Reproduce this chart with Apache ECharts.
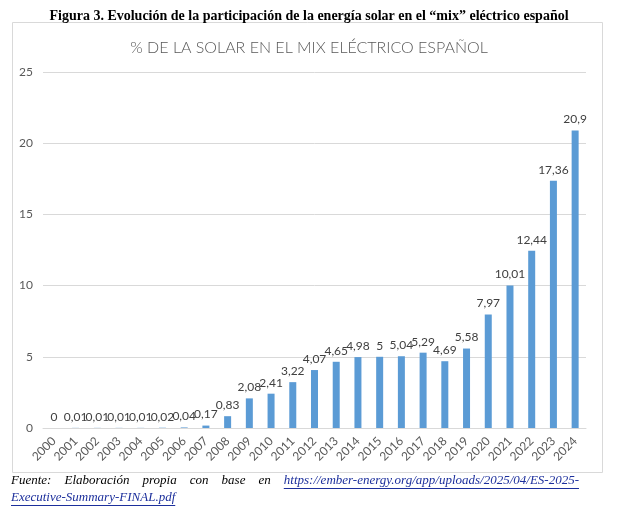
<!DOCTYPE html>
<html>
<head>
<meta charset="utf-8">
<script src="https://cdn.jsdelivr.net/npm/echarts@6/dist/echarts.min.js"></script>
<style>
html,body{margin:0;padding:0;background:#fff;}
#c{width:618px;height:515px;}
</style>
</head>
<body>
<div id="c"></div>
<script>
const years = ['2000','2001','2002','2003','2004','2005','2006','2007','2008','2009','2010','2011','2012','2013','2014','2015','2016','2017','2018','2019','2020','2021','2022','2023','2024'];
const solarShare = [0,0.01,0.01,0.01,0.01,0.02,0.04,0.17,0.83,2.08,2.41,3.22,4.07,4.65,4.98,5,5.04,5.29,4.69,5.58,7.97,10.01,12.44,17.36,20.9];
const yTicks = [0,5,10,15,20,25];
const figCaption = 'Figura 3. Evolución de la participación de la energía solar en el “mix” eléctrico español';
const chartTitle = '% DE LA SOLAR EN EL MIX ELÉCTRICO ESPAÑOL';
const footWords = ['Fuente:','Elaboración','propia','con','base','en'];
const footLink1 = 'https://ember-energy.org/app/uploads/2025/04/ES-2025-';
const footLink2 = 'Executive-Summary-FINAL.pdf';

const chart = echarts.init(document.getElementById('c'));

// measure text for justified footer
const cv = document.createElement('canvas').getContext('2d');
const footFont = "italic 13px 'Liberation Serif'";
cv.font = footFont;
const lineLeft = 11, lineRight = 579;
const allWords = footWords.concat([footLink1]);
const widths = allWords.map(w => cv.measureText(w).width);
const total = widths.reduce((a,b)=>a+b,0);
const gap = (lineRight - lineLeft - total) / (allWords.length - 1);
const linkColor = '#1c2f9c';
const graphics = [];
graphics.push({type:'rect', shape:{x:12.5,y:22.5,width:590,height:450}, style:{fill:'none',stroke:'#d9d9d9',lineWidth:1}, silent:true, z:-1});
let x = lineLeft;
allWords.forEach((w,i) => {
  const isLink = i === allWords.length - 1;
  graphics.push({type:'text', left:x, top:474, style:{text:w, font:footFont, fill:isLink?linkColor:'#000'}});
  if (isLink) {
    graphics.push({type:'line', shape:{x1:x,y1:488.5,x2:x+widths[i],y2:488.5}, style:{stroke:linkColor,lineWidth:1}});
  }
  x += widths[i] + gap;
});
const w2 = cv.measureText(footLink2).width;
graphics.push({type:'text', left:lineLeft, top:491, style:{text:footLink2, font:footFont, fill:linkColor}});
graphics.push({type:'line', shape:{x1:lineLeft,y1:505.5,x2:lineLeft+w2,y2:505.5}, style:{stroke:linkColor,lineWidth:1}});

chart.setOption({
  animation:false,
  backgroundColor:'#fff',
  title:[
    {text:figCaption, left:'center', top:4, textStyle:{fontFamily:'Liberation Serif', fontWeight:'bold', fontSize:14, color:'#000'}},
    {text:chartTitle, left:'center', top:35, textStyle:{fontFamily:'Lato', fontWeight:300, fontSize:16, color:'#595959'}}
  ],
  grid:{left:43, right:32, top:72, bottom:87},
  xAxis:{
    type:'category', data:years,
    axisLine:{lineStyle:{color:'#d9d9d9'}},
    axisTick:{show:false},
    axisLabel:{rotate:45, color:'#595959', fontFamily:'Lato', fontSize:12, margin:11, interval:0}
  },
  yAxis:{
    type:'value', min:0, max:25, interval:5,
    axisLine:{show:false}, axisTick:{show:false},
    splitLine:{lineStyle:{color:'#d9d9d9'}},
    axisLabel:{color:'#595959', fontFamily:'Lato', fontSize:12, margin:10}
  },
  series:[{
    type:'bar', data:solarShare, barWidth:7,
    itemStyle:{color:'#5b9bd5'},
    label:{show:true, position:'top', distance:5, color:'#404040', fontFamily:'Lato', fontSize:12,
      formatter:p => String(p.value).replace('.',',')}
  }],
  graphic:graphics
});
</script>
</body>
</html>
